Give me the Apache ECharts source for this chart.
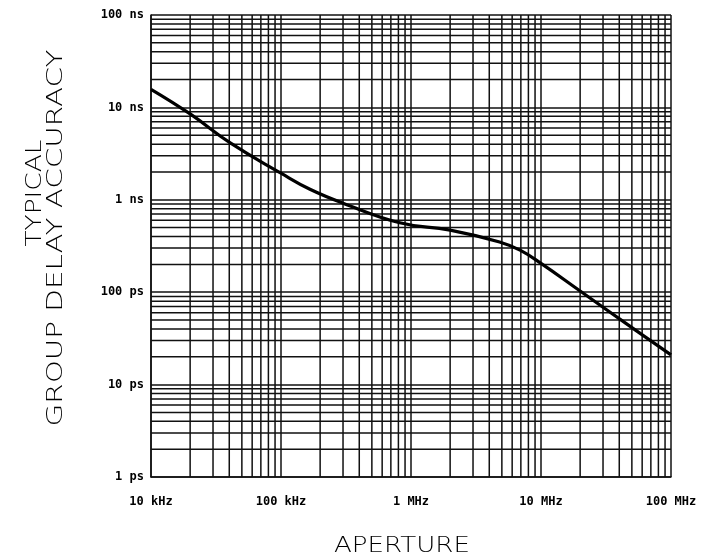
<!DOCTYPE html>
<html>
<head>
<meta charset="utf-8">
<script src="https://cdn.jsdelivr.net/npm/echarts@6/dist/echarts.min.js"></script>
<style>
  html, body { margin: 0; padding: 0; background: #fff; }
  #chart { width: 706px; height: 558px; }
</style>
</head>
<body>
<div id="chart"></div>
<script>
// ---- data ----
const freqKHz  = [10, 20, 41, 100, 167, 300, 820, 2000, 4800, 6900, 10000, 20000, 45000, 100000];
const delayNs  = [15.7, 8.5, 4.1, 1.94, 1.3, 0.92, 0.565, 0.47, 0.35, 0.285, 0.205, 0.103, 0.046, 0.021];
const xTickLabels = ['10 kHz', '100 kHz', '1 MHz', '10 MHz', '100 MHz'];
const yTickLabels = ['1 ps', '10 ps', '100 ps', '1 ns', '10 ns', '100 ns'];
const xDecades = [10, 100, 1000, 10000];          // kHz decade starts
const yDecades = [0.001, 0.01, 0.1, 1, 10];       // ns decade starts
const xRange = [10, 100000];
const yRange = [0.001, 100];
const yTitle1 = 'TYPICAL';
const yTitle2 = 'GROUP DELAY ACCURACY';
const xTitle = 'APERTURE';

// minor grid values (2..9 within each decade)
const xMinor = [], yMinor = [];
xDecades.forEach(d => { for (let k = 2; k <= 9; k++) xMinor.push(+(d * k).toPrecision(6)); });
yDecades.forEach(d => { for (let k = 2; k <= 9; k++) yMinor.push(+(d * k).toPrecision(6)); });

// minor grid as broken polylines through the axes' own scales
const vGrid = [], hGrid = [];
xMinor.forEach(v => { vGrid.push([v, yRange[0]], [v, yRange[1]], [v, '-']); });
yMinor.forEach(v => { hGrid.push([xRange[0], v], [xRange[1], v], [xRange[1], '-']); });

const seriesData = freqKHz.map((f, i) => [f, delayNs[i]]);

const gridColor = '#111';
const gridWidth = 1.5;
const tickFont = 'DejaVu Sans Mono';
const titleFont = '"DejaVu Sans", "Liberation Sans", sans-serif';

function fitScale(text, size, weight, target) {
  const c = document.createElement('canvas').getContext('2d');
  c.font = weight + ' ' + size + 'px ' + titleFont;
  const w = c.measureText(text).width;
  return w > 0 ? target / w : 1;
}

const chart = echarts.init(document.getElementById('chart'), null, { renderer: 'canvas' });

const gridSeries = d => ({
  type: 'line', data: d, z: 1, silent: true, connectNulls: false,
  showSymbol: false, symbol: 'none', clip: false,
  lineStyle: { color: gridColor, width: gridWidth },
  emphasis: { disabled: true }
});

const option = {
  animation: false,
  backgroundColor: '#fff',
  grid: { left: 151, right: 35, top: 15, bottom: 81, show: false },
  xAxis: {
    type: 'log', logBase: 10, min: xRange[0], max: xRange[1], splitNumber: 4,
    axisLine: { show: true, lineStyle: { color: gridColor, width: gridWidth } },
    axisTick: { show: false },
    splitLine: { show: true, lineStyle: { color: gridColor, width: gridWidth } },
    minorTick: { show: false }, minorSplitLine: { show: false },
    axisLabel: {
      margin: 19, color: '#000', fontFamily: tickFont, fontWeight: 'bold', fontSize: 12,
      formatter: v => xTickLabels[Math.round(Math.log10(v)) - 1] || ''
    }
  },
  yAxis: {
    type: 'log', logBase: 10, min: yRange[0], max: yRange[1], splitNumber: 5,
    axisLine: { show: true, lineStyle: { color: gridColor, width: gridWidth } },
    axisTick: { show: false },
    splitLine: { show: true, lineStyle: { color: gridColor, width: gridWidth } },
    minorTick: { show: false }, minorSplitLine: { show: false },
    axisLabel: {
      margin: 7, color: '#000', fontFamily: tickFont, fontWeight: 'bold', fontSize: 12,
      formatter: v => yTickLabels[Math.round(Math.log10(v)) + 3] || ''
    }
  },
  series: [
    gridSeries(vGrid),
    gridSeries(hGrid),
    {
      type: 'line', data: seriesData, z: 5, smooth: 0.45,
      showSymbol: false, symbol: 'none',
      lineStyle: { color: '#000', width: 3.2 }
    }
  ],
  graphic: [
    {
      type: 'text', x: 402, y: 546, z: 10,
      scaleX: fitScale(xTitle, 22, 200, 136),
      style: { text: xTitle, font: '200 22px ' + titleFont, fill: '#000', align: 'center', verticalAlign: 'middle' }
    },
    {
      type: 'text', x: 35, y: 193, rotation: Math.PI / 2, z: 10,
      scaleX: fitScale(yTitle1, 22, 200, 107),
      style: { text: yTitle1, font: '200 22px ' + titleFont, fill: '#000', align: 'center', verticalAlign: 'middle' }
    },
    {
      type: 'text', x: 56, y: 238, rotation: Math.PI / 2, z: 10,
      scaleX: fitScale(yTitle2, 22, 200, 377),
      style: { text: yTitle2, font: '200 22px ' + titleFont, fill: '#000', align: 'center', verticalAlign: 'middle' }
    }
  ]
};
chart.setOption(option);
</script>
</body>
</html>
